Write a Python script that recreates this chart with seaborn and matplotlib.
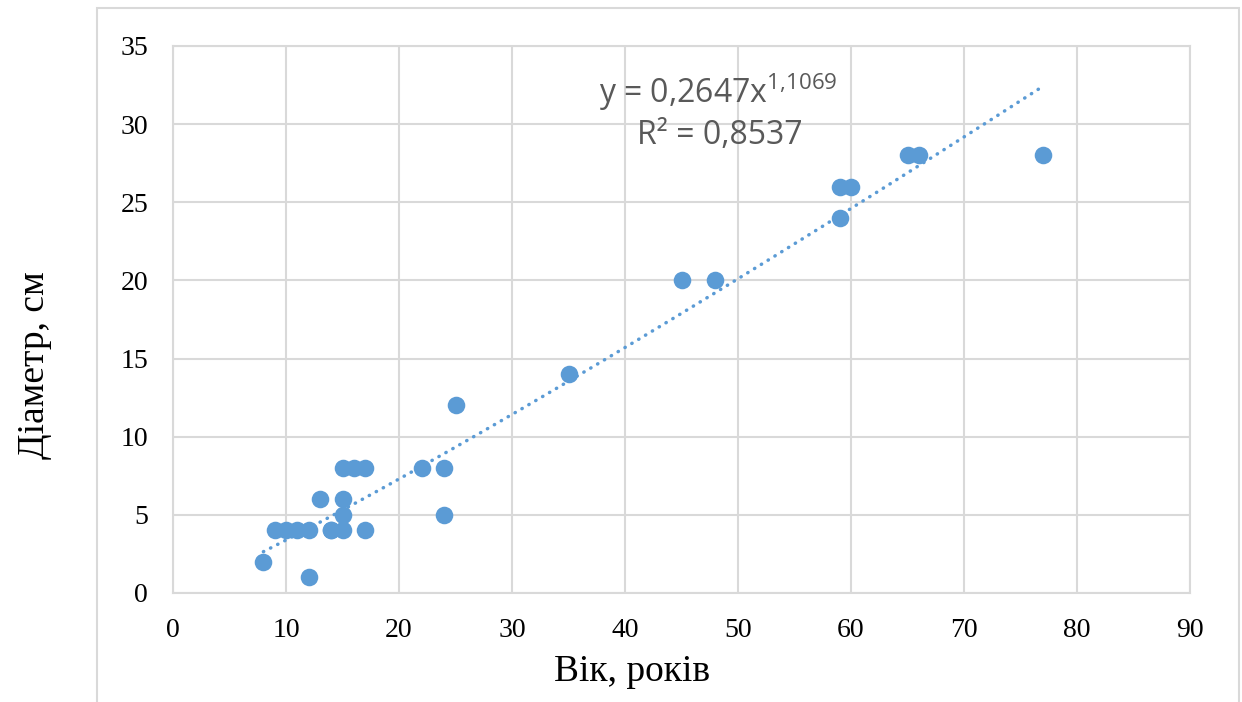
import numpy as np
import pandas as pd
import matplotlib
matplotlib.use("Agg")
import matplotlib.pyplot as plt
from matplotlib.patches import Rectangle
import seaborn as sns

# Data
age = [8, 9, 10, 11, 12, 12, 13, 14, 14, 15, 15, 15, 15, 16, 17, 17,
       22, 24, 24, 25, 35, 45, 48, 59, 59, 60, 65, 66, 77]
diameter = [2, 4, 4, 4, 4, 1, 6, 4, 4, 4, 5, 6, 8, 8, 8, 4,
            8, 8, 5, 12, 14, 20, 20, 24, 26, 26, 28, 28, 28]
coef_a = 0.2647
coef_b = 1.1069
r2 = 0.8537
x_ticks = [0, 10, 20, 30, 40, 50, 60, 70, 80, 90]
y_ticks = [0, 5, 10, 15, 20, 25, 30, 35]

df = pd.DataFrame({"age": age, "diameter": diameter})

sns.set_theme(style="white")
plt.rcParams["font.family"] = ["Liberation Serif", "DejaVu Serif"]
plt.rcParams["mathtext.fontset"] = "custom"
plt.rcParams["mathtext.rm"] = "Open Sans"

fig = plt.figure(figsize=(12.42, 7.02), dpi=100)
ax = fig.add_axes([173/1242, 1-593/702, (1190-173)/1242, (593-46)/702])

blue = "#5B9BD5"
grid = "#D9D9D9"

# outer chart border
fig.patches.append(Rectangle((97/1242, -0.1), (1239-97)/1242, 1.1 - 8/702,
                             transform=fig.transFigure, fill=False,
                             edgecolor=grid, linewidth=1.5))

# trendline
xt = np.linspace(min(age), max(age), 200)
yt = coef_a * xt ** coef_b
ax.plot(xt, yt, color=blue, linewidth=2.5, linestyle=(0, (0.1, 2.2)),
        dash_capstyle="round", zorder=2)

sns.scatterplot(data=df, x="age", y="diameter", ax=ax, color=blue, s=160,
                edgecolor=blue, linewidth=0, zorder=3, legend=False)

ax.set_xlim(0, 90)
ax.set_ylim(0, 35)
ax.set_xticks(x_ticks)
ax.set_yticks(y_ticks)
ax.grid(True, color=grid, linewidth=1.5)
ax.set_axisbelow(True)
for sp in ax.spines.values():
    sp.set_color(grid)
    sp.set_linewidth(1.5)
ax.tick_params(axis="both", length=0, labelsize=20, labelcolor="black")
ax.tick_params(axis="x", pad=18)
ax.tick_params(axis="y", pad=18)

ax.set_xlabel("Вік, років", fontsize=27, color="black")
ax.set_ylabel("Діаметр, см", fontsize=27, color="black")
ax.xaxis.set_label_coords(0.451, -0.112)
ax.yaxis.set_label_coords(-0.119, 0.417)

fig.text(718/1242, 1-92/702, r"y = 0,2647x$^{1{,}1069}$", fontsize=23,
         family="Open Sans", color="#595959", ha="center", va="center")
fig.text(720/1242, 1-135/702, "R² = 0,8537", fontsize=23,
         family="Open Sans", color="#595959", ha="center", va="center")

fig.savefig("out.png", dpi=100, facecolor="white")
